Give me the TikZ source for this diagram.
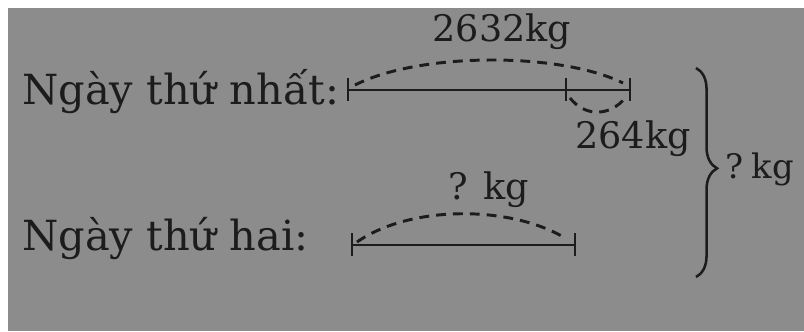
\documentclass[tikz,border=0pt]{standalone}
\usepackage{fontspec}
\setmainfont{DejaVu Serif}
\usepackage{tikz}
\usetikzlibrary{positioning, calc, decorations.pathreplacing}
\definecolor{paper}{RGB}{140,140,140}
\definecolor{ink}{RGB}{28,28,28}

\begin{document}
\begin{tikzpicture}[x=0.025cm, y=-0.025cm,
          every node/.style={text=ink, inner sep=0pt},
          txt/.style={font=\fontsize{29.5}{32}\selectfont},
          num/.style={font=\fontsize{26}{30}\selectfont},
          seg/.style={draw=ink, line width=2pt},
          tick/.style={draw=ink, line width=1.7pt},
          arc/.style={draw=ink, line width=2.1pt, dash pattern=on 7pt off 5pt}]
          \useasboundingbox (0,0) rectangle (804,331);
          \fill[white] (0,0) rectangle (804,331);
          \fill[paper] (8,8) rectangle (804,331);

          % labels of the two days
          \node[txt, anchor=base west] (day1) at (22,104) {Ngày thứ nhất:};
          \node[txt, anchor=base west] (day2) at (22,250) {Ngày thứ hai:};

          % segment ends
          \coordinate (a1) at (348,90);
          \coordinate (m1) at (566,90);
          \coordinate (b1) at (630,90);
          \coordinate (a2) at (352,245);
          \coordinate (b2) at (575,245);

          \draw[seg] (a1) -- (b1);
          \draw[seg] (a2) -- (b2);
          \foreach \p in {a1,m1,b1,a2,b2}
            \draw[tick] ([yshift=8.5pt]\p) -- ([yshift=-7.5pt]\p);

          % dashed arcs
          \coordinate (p1) at (355,85);
          \coordinate (q1) at (623,83);
          \draw[arc] (p1) .. controls (420,52) and (560,52) .. (q1);
          \coordinate (p2) at (570,98);
          \coordinate (q2) at (626,97);
          \draw[arc] (p2) .. controls (585,117) and (610,117) .. (q2);
          \coordinate (p3) at (357,242);
          \coordinate (q3) at (565,238);
          \draw[arc] (p3) .. controls (410,205) and (510,205) .. (q3);

          \node[num] (total1) at (502,32) {2632kg};
          \node[num] (less) at (633,139) {264kg};
          \node[num] (total2) at (489,190) {? kg};

          % brace over both days
          \coordinate (bt) at (696,68);
          \coordinate (bb) at (696,277);
          \draw[ink, line width=1.8pt, decorate,
                decoration={brace, amplitude=15pt, aspect=0.48}] (bt) -- (bb);
          \node[num, anchor=base west, font=\fontsize{24}{28}\selectfont] (sum) at (725,178) {?\hspace{0.25em}kg};
        \end{tikzpicture}
\end{document}
